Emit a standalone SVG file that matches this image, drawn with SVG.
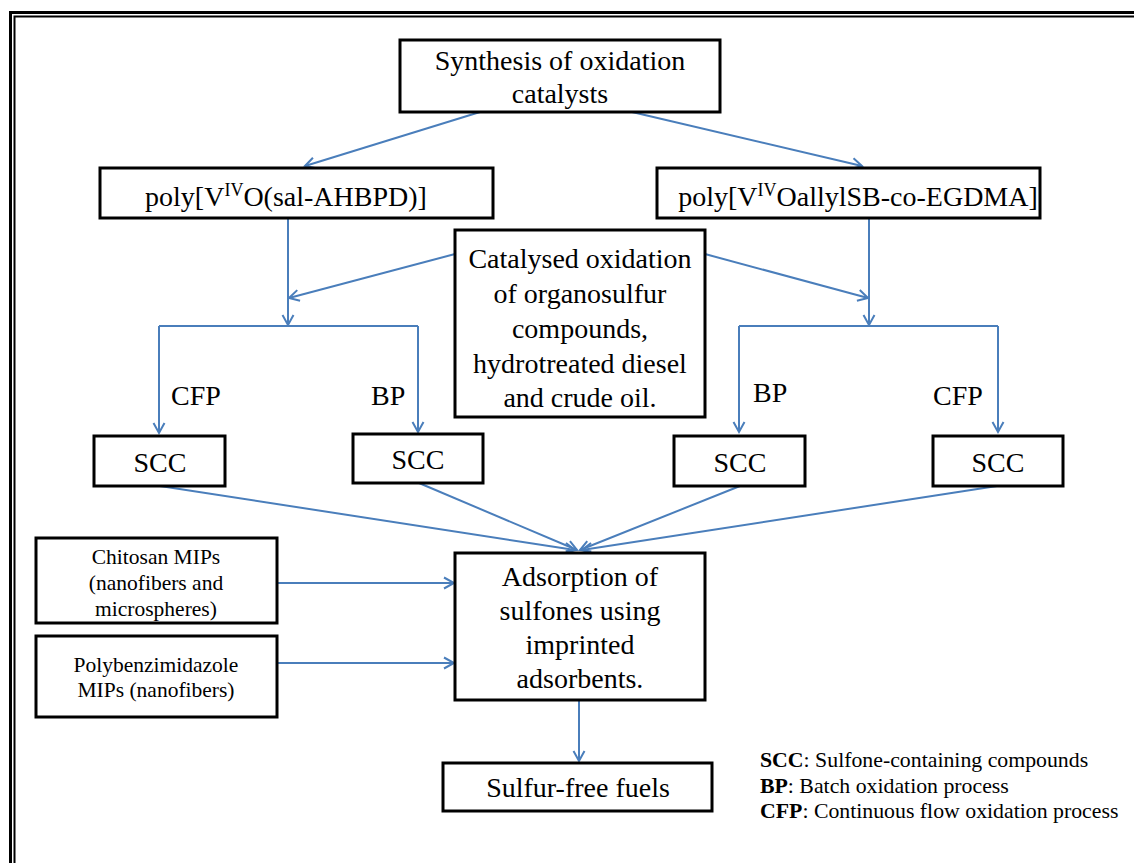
<svg xmlns="http://www.w3.org/2000/svg" width="1134" height="863" viewBox="0 0 1134 863">
  <style>
    .box { fill: #ffffff; stroke: #000000; stroke-width: 3; }
    .t { font-family: "Liberation Serif", "Times New Roman", serif; fill: #000000; text-anchor: middle; }
    .big { font-size: 28px; }
    .small { font-size: 21.5px; }
    .lbl { font-family: "Liberation Serif", "Times New Roman", serif; font-size: 28px; fill: #000000; }
    .leg { font-family: "Liberation Serif", "Times New Roman", serif; font-size: 21.8px; fill: #000000; }
    .con { fill: none; stroke: #4a7ebb; stroke-width: 2; }
  </style>
  <defs>
    <marker id="arrow" markerUnits="userSpaceOnUse" markerWidth="14" markerHeight="14" refX="11" refY="7" orient="auto">
      <path d="M1,1.5 L11,7 L1,12.5" fill="none" stroke="#4a7ebb" stroke-width="2"/>
    </marker>
  </defs>

  <rect width="1134" height="863" fill="#ffffff"/>

  <!-- double page frame -->
  <g id="frame" fill="none" stroke="#000000">
    <rect x="10.5" y="12.5" width="1200" height="900" stroke-width="3"/>
    <rect x="14.5" y="16.5" width="1200" height="900" stroke-width="2"/>
  </g>

  <!-- connectors -->
  <g id="connectors" class="con">
    <path d="M480,112 L305,166" marker-end="url(#arrow)"/>
    <path d="M632,112 L862,166" marker-end="url(#arrow)"/>

    <path d="M288,218 V325" marker-end="url(#arrow)"/>
    <path d="M455,254 L289,298" marker-end="url(#arrow)"/>
    <path d="M159,326 H418"/>
    <path d="M159,326 V433" marker-end="url(#arrow)"/>
    <path d="M418,326 V432" marker-end="url(#arrow)"/>

    <path d="M869,218 V325" marker-end="url(#arrow)"/>
    <path d="M705,254 L868,298" marker-end="url(#arrow)"/>
    <path d="M739,326 H998"/>
    <path d="M739,326 V432" marker-end="url(#arrow)"/>
    <path d="M998,326 V432" marker-end="url(#arrow)"/>

    <path d="M160,486 L575,550" marker-end="url(#arrow)"/>
    <path d="M419,483 L577,550" marker-end="url(#arrow)"/>
    <path d="M740,486 L580,550" marker-end="url(#arrow)"/>
    <path d="M997,486 L582,550" marker-end="url(#arrow)"/>

    <path d="M277,583 H454" marker-end="url(#arrow)"/>
    <path d="M277,663 H454" marker-end="url(#arrow)"/>

    <path d="M579,700 V761" marker-end="url(#arrow)"/>
  </g>

  <!-- branch labels -->
  <g id="labels">
    <text class="lbl" x="171" y="405">CFP</text>
    <text class="lbl" x="371" y="405">BP</text>
    <text class="lbl" x="753" y="402">BP</text>
    <text class="lbl" x="933" y="405">CFP</text>
  </g>

  <g id="synthesis">
    <rect class="box" x="400" y="40" width="320" height="72"/>
    <text class="t big" x="560" y="70">Synthesis of oxidation</text>
    <text class="t big" x="560" y="103">catalysts</text>
  </g>

  <g id="catalyst-left">
    <rect class="box" x="100" y="168" width="393" height="50"/>
    <text class="t big" x="286" y="206">poly[V<tspan font-size="18" dy="-10">IV</tspan><tspan dy="10">O(sal-AHBPD)]</tspan></text>
  </g>

  <g id="catalyst-right">
    <rect class="box" x="657" y="168" width="383" height="50"/>
    <text class="t big" x="858" y="206">poly[V<tspan font-size="18" dy="-10">IV</tspan><tspan dy="10">OallylSB-co-EGDMA]</tspan></text>
  </g>

  <g id="oxidation">
    <rect class="box" x="455" y="230" width="250" height="187"/>
    <text class="t big" x="580" y="268">Catalysed oxidation</text>
    <text class="t big" x="580" y="303">of organosulfur</text>
    <text class="t big" x="580" y="338">compounds,</text>
    <text class="t big" x="580" y="373">hydrotreated diesel</text>
    <text class="t big" x="580" y="407">and crude oil.</text>
  </g>

  <g id="scc-1">
    <rect class="box" x="94" y="436" width="131" height="50"/>
    <text class="t big" x="160" y="472">SCC</text>
  </g>
  <g id="scc-2">
    <rect class="box" x="353" y="434" width="130" height="49"/>
    <text class="t big" x="418" y="469">SCC</text>
  </g>
  <g id="scc-3">
    <rect class="box" x="674" y="436" width="131" height="50"/>
    <text class="t big" x="740" y="472">SCC</text>
  </g>
  <g id="scc-4">
    <rect class="box" x="933" y="436" width="130" height="50"/>
    <text class="t big" x="998" y="472">SCC</text>
  </g>

  <g id="chitosan">
    <rect class="box" x="36" y="538" width="241" height="85"/>
    <text class="t small" x="156" y="564">Chitosan MIPs</text>
    <text class="t small" x="156" y="590">(nanofibers and</text>
    <text class="t small" x="156" y="616">microspheres)</text>
  </g>

  <g id="polybenzimidazole">
    <rect class="box" x="36" y="636" width="241" height="81"/>
    <text class="t small" x="156" y="672">Polybenzimidazole</text>
    <text class="t small" x="156" y="697">MIPs (nanofibers)</text>
  </g>

  <g id="adsorption">
    <rect class="box" x="455" y="553" width="250" height="147"/>
    <text class="t big" x="580" y="586">Adsorption of</text>
    <text class="t big" x="580" y="620">sulfones using</text>
    <text class="t big" x="580" y="654">imprinted</text>
    <text class="t big" x="580" y="688">adsorbents.</text>
  </g>

  <g id="sulfur-free">
    <rect class="box" x="443" y="763" width="269" height="48"/>
    <text class="t big" x="578" y="797">Sulfur-free fuels</text>
  </g>

  <g id="legend">
    <text class="leg" x="760" y="767"><tspan font-weight="bold">SCC</tspan>: Sulfone-containing compounds</text>
    <text class="leg" x="760" y="793"><tspan font-weight="bold">BP</tspan>: Batch oxidation process</text>
    <text class="leg" x="760" y="818"><tspan font-weight="bold">CFP</tspan>: Continuous flow oxidation process</text>
  </g>
</svg>
